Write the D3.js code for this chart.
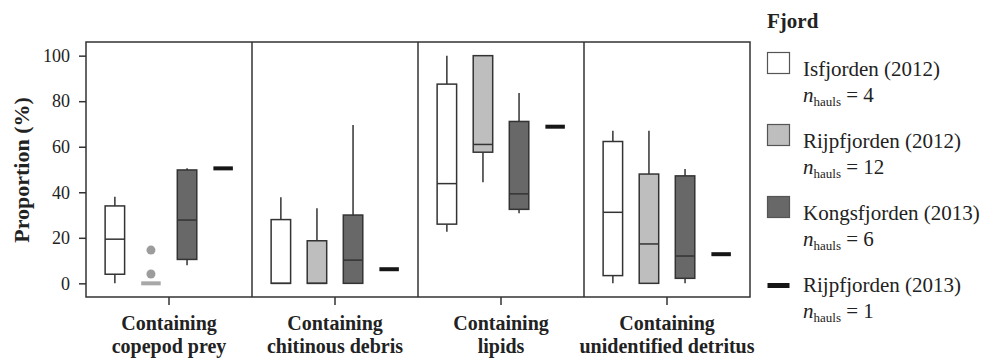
<!DOCTYPE html>
<html>
<head>
<meta charset="utf-8">
<script src="https://cdn.jsdelivr.net/npm/d3@7"></script>
<style>
  body { margin: 0; background: #fff; }
</style>
</head>
<body>
<div id="chart"></div>
<script>
// categories on the x axis (two text lines each)
const catLine1 = ["Containing", "Containing", "Containing", "Containing"]
const catLine2 = ["copepod prey", "chitinous debris", "lipids", "unidentified detritus"]

const fjords = ["Isfjorden (2012)", "Rijpfjorden (2012)", "Kongsfjorden (2013)", "Rijpfjorden (2013)"]
const nHauls = [4, 12, 6, 1]
const fills = ["#ffffff", "#bdbebd", "#686868", "#161616"]

// [whisker low, q1, median, q3, whisker high] per category
const isfjorden2012 = [[0, 4, 19.4, 34, 38], [0, 0, 0, 28, 37.8], [22.7, 26, 43.8, 87.5, 100], [0, 3.4, 31.2, 62.3, 67]]
const rijpfjorden2012 = [[0, 0, 0, 0, 0], [0, 0, 0, 18.7, 33], [44.4, 57.6, 61, 100, 100], [0, 0, 17.3, 48, 67]]
const kongsfjorden2013 = [[8, 10.5, 27.8, 49.8, 50.6], [0, 0, 10.2, 30, 69.6], [30.8, 32.5, 39.3, 71.1, 83.6], [0, 2.2, 12, 47.2, 50.2]]
// single haul -> one value per category
const rijpfjorden2013 = [50.5, 6.2, 68.8, 12.8]
// outlying points (Rijpfjorden 2012)
const rijpfjorden2012Outliers = [[14.6, 4.1], [], [], []]

const yTicks = [0, 20, 40, 60, 80, 100]

const FONT = "Liberation Serif"
const width = 1000, height = 361
const margin = {left: 86, right: 250, top: 42, bottom: 64}
const plotW = width - margin.left - margin.right
const plotH = height - margin.top - margin.bottom

const svg = d3.select("#chart").append("svg")
  .attr("width", width)
  .attr("height", height)
  .attr("font-family", FONT)

const g = svg.append("g").attr("transform", `translate(${margin.left},${margin.top})`)

const y = d3.scaleLinear().domain([-6, 106]).range([plotH, 0])
const x = d3.scaleBand().domain(d3.range(catLine2.length)).range([0, plotW])
const xi = d3.scaleBand().domain(d3.range(fjords.length)).range([0, x.bandwidth()])
  .paddingOuter(0.3).paddingInner(0)
const boxW = xi.bandwidth() * 0.54

// build box records
const boxes = []
const series = [isfjorden2012, rijpfjorden2012, kongsfjorden2013, rijpfjorden2013.map(v => [v, v, v, v, v])]
series.forEach((s, fi) => {
  s.forEach((st, ci) => {
    boxes.push({fi, ci, lo: st[0], q1: st[1], med: st[2], q3: st[3], hi: st[4]})
  })
})

const cx = d => x(d.ci) + xi(d.fi) + xi.bandwidth() / 2

// whiskers
g.append("g").selectAll("line")
  .data(boxes.filter(d => d.hi > d.q3))
  .join("line")
  .attr("x1", cx).attr("x2", cx)
  .attr("y1", d => y(d.q3)).attr("y2", d => y(d.hi))
  .attr("stroke", "#333").attr("stroke-width", 1.5)
g.append("g").selectAll("line")
  .data(boxes.filter(d => d.lo < d.q1))
  .join("line")
  .attr("x1", cx).attr("x2", cx)
  .attr("y1", d => y(d.q1)).attr("y2", d => y(d.lo))
  .attr("stroke", "#333").attr("stroke-width", 1.5)

// boxes
g.append("g").selectAll("rect")
  .data(boxes.filter(d => d.q3 > d.q1))
  .join("rect")
  .attr("x", d => cx(d) - boxW / 2)
  .attr("width", boxW)
  .attr("y", d => y(d.q3))
  .attr("height", d => y(d.q1) - y(d.q3))
  .attr("fill", d => fills[d.fi])
  .attr("stroke", "#333").attr("stroke-width", 1.5)

// medians
g.append("g").selectAll("line")
  .data(boxes.filter(d => d.q3 > d.q1))
  .join("line")
  .attr("x1", d => cx(d) - boxW / 2).attr("x2", d => cx(d) + boxW / 2)
  .attr("y1", d => y(d.med)).attr("y2", d => y(d.med))
  .attr("stroke", "#333").attr("stroke-width", 1.5)

// collapsed boxes (all quartiles equal) drawn as a thick bar
g.append("g").selectAll("rect")
  .data(boxes.filter(d => d.q3 === d.q1))
  .join("rect")
  .attr("x", d => cx(d) - boxW / 2)
  .attr("width", boxW)
  .attr("y", d => y(d.med) - 2)
  .attr("height", 4)
  .attr("fill", d => d.fi === 1 ? "#a8a8a8" : fills[d.fi])

// outliers
const pts = []
rijpfjorden2012Outliers.forEach((arr, ci) => arr.forEach(v => pts.push({fi: 1, ci, v})))
g.append("g").selectAll("circle")
  .data(pts)
  .join("circle")
  .attr("cx", cx)
  .attr("cy", d => y(d.v))
  .attr("r", 4.5)
  .attr("fill", "#9c9c9c")

// panel separators
g.append("g").selectAll("line")
  .data(d3.range(1, catLine2.length))
  .join("line")
  .attr("x1", d => x(d)).attr("x2", d => x(d))
  .attr("y1", 0).attr("y2", plotH)
  .attr("stroke", "#333").attr("stroke-width", 1.5)

// frame
g.append("rect")
  .attr("width", plotW).attr("height", plotH)
  .attr("fill", "none").attr("stroke", "#333").attr("stroke-width", 1.5)

// y axis
const yAxis = g.append("g")
  .call(d3.axisLeft(y).tickValues(yTicks).tickSize(7).tickPadding(9))
  .attr("font-family", FONT)
yAxis.select(".domain").remove()
yAxis.selectAll("line").attr("stroke", "#333").attr("stroke-width", 1.5)
yAxis.selectAll("text").attr("font-size", 18).attr("fill", "#222")
  .attr("font-family", FONT)

// x axis
const xAxis = g.append("g").attr("transform", `translate(0,${plotH})`)
  .call(d3.axisBottom(x).tickSize(8).tickFormat(""))
xAxis.select(".domain").remove()
xAxis.selectAll("line").attr("stroke", "#333").attr("stroke-width", 1.5)

// category labels, one text per line
const xlab = g.append("g")
  .attr("font-family", FONT)
  .attr("font-size", 20)
  .attr("font-weight", "bold")
  .attr("fill", "#222")
  .attr("text-anchor", "middle")
xlab.selectAll("text.l1")
  .data(d3.range(catLine1.length))
  .join("text")
  .attr("x", d => x(d) + x.bandwidth() / 2)
  .attr("y", 330 - margin.top)
  .text(d => catLine1[d])
xlab.selectAll("text.l2")
  .data(d3.range(catLine2.length))
  .join("text")
  .attr("x", d => x(d) + x.bandwidth() / 2)
  .attr("y", 353 - margin.top)
  .text(d => catLine2[d])

// y label
g.append("text")
  .attr("transform", `translate(${29 - margin.left},${170 - margin.top}) rotate(-90)`)
  .attr("text-anchor", "middle")
  .attr("font-family", FONT)
  .attr("font-size", 22)
  .attr("font-weight", "bold")
  .attr("fill", "#222")
  .text("Proportion (%)")

// legend
const leg = svg.append("g").attr("transform", "translate(767,0)")
leg.append("text")
  .attr("x", 0).attr("y", 28)
  .attr("font-family", FONT)
  .attr("font-size", 21).attr("font-weight", "bold").attr("fill", "#222")
  .text("Fjord")

const item = leg.selectAll("g.item")
  .data(fjords)
  .join("g")
  .attr("transform", (d, i) => `translate(0,${52 + i * 72})`)

item.append("rect")
  .attr("x", 0.5)
  .attr("y", (d, i) => i === 3 ? 15 : 0.5)
  .attr("width", 22)
  .attr("height", (d, i) => i === 3 ? 5 : 21)
  .attr("fill", (d, i) => fills[i])
  .attr("stroke", (d, i) => i === 3 ? "none" : "#555")
  .attr("stroke-width", 1.2)

item.append("text")
  .attr("x", 36).attr("y", 24)
  .attr("font-family", FONT)
  .attr("font-size", 21).attr("fill", "#222")
  .text(d => d)

const nt = item.append("text")
  .attr("x", 36).attr("y", 50)
  .attr("font-family", FONT)
  .attr("font-size", 21).attr("fill", "#222")
nt.append("tspan").attr("font-style", "italic").text("n")
nt.append("tspan").attr("font-size", 13).attr("dy", 4).text("hauls")
nt.append("tspan").attr("dy", -4).text((d, i) => ` = ${nHauls[i]}`)
</script>
</body>
</html>
